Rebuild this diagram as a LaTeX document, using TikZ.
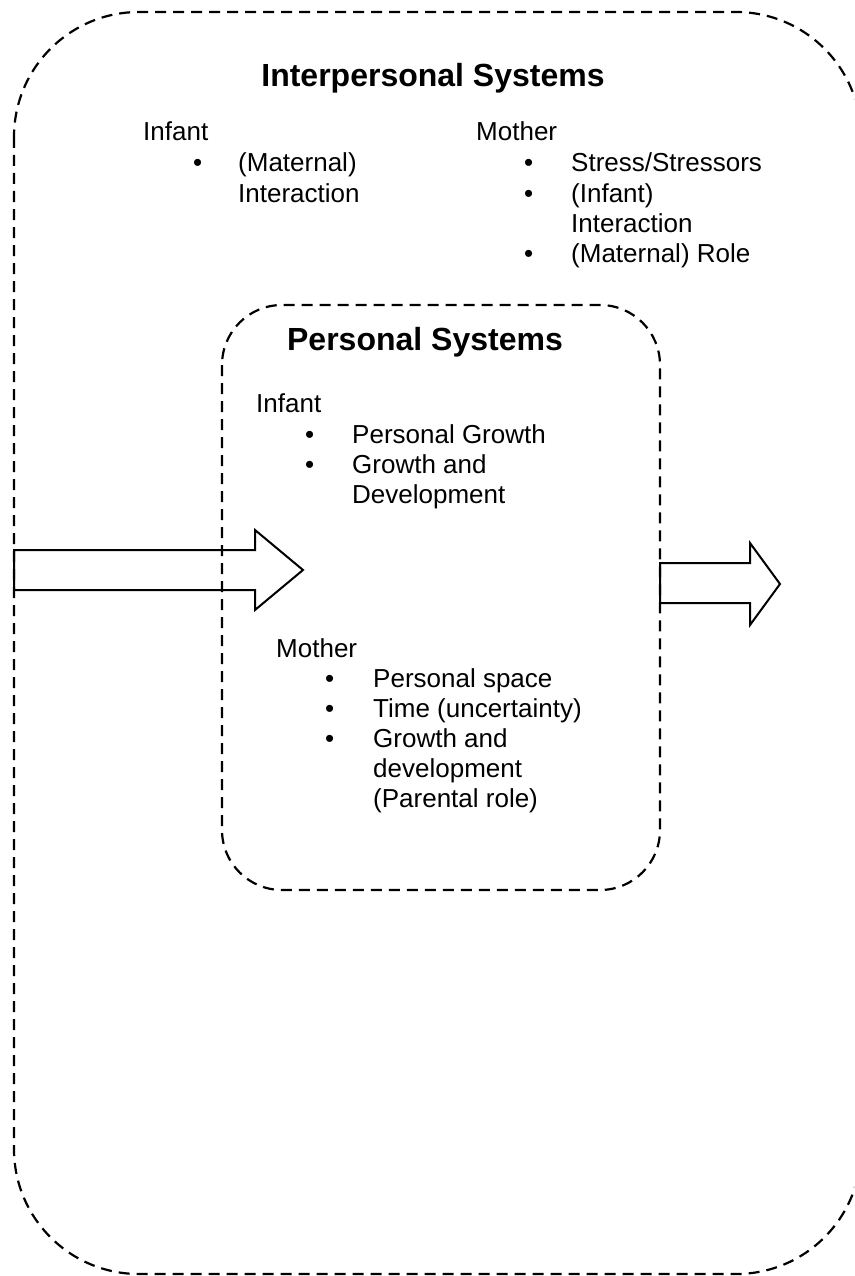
\documentclass[tikz,border=0pt]{standalone}
\usepackage{fontspec}
\setmainfont{Liberation Sans}
\begin{document}
\begin{tikzpicture}[x=1pt,y=-1pt,
  txt/.style={anchor=base west, inner sep=0pt, font=\fontsize{26}{30}\selectfont},
  ttl/.style={anchor=base, inner sep=0pt, font=\fontsize{32}{38}\selectfont\bfseries},
  sysbox/.style={draw, line width=2.2pt, dash pattern=on 11pt off 7pt},
  blockarrow/.style={draw, line width=2pt, line join=miter}]
\path[use as bounding box] (0,0) rectangle (854,1276);
\clip (0,0) rectangle (854,1276);
% outer and inner system boxes
\draw[sysbox, rounded corners=125pt] (14,12) rectangle (861,1274);
\draw[sysbox, rounded corners=60pt] (222,305) rectangle (660,890);
% block arrows
\draw[blockarrow] (14,550) -- (255,550) -- (255,530) -- (303,570) -- (255,610) -- (255,590) -- (14,590) -- cycle;
\draw[blockarrow] (660,563) -- (750,563) -- (750,543) -- (780,584) -- (750,625) -- (750,603) -- (660,603) -- cycle;
% titles
\node[ttl] (t1) at (433,87) {Interpersonal Systems};
\node[ttl] (t2) at (425,350) {Personal Systems};
% interpersonal - infant
\node[txt] (i1) at (143,141) {Infant};
\node[txt] (i1b1) at (193,172) {•};
\node[txt] (i1a) at (238,172) {(Maternal)};
\node[txt] (i1b) at (238,202) {Interaction};
% interpersonal - mother
\node[txt] (m1) at (476,141) {Mother};
\node[txt] (m1b1) at (524,172) {•};
\node[txt] (m1a) at (571,172) {Stress/Stressors};
\node[txt] (m1b2) at (524,202) {•};
\node[txt] (m1b) at (571,202) {(Infant)};
\node[txt] (m1c) at (571,232) {Interaction};
\node[txt] (m1b3) at (524,262) {•};
\node[txt] (m1d) at (571,262) {(Maternal) Role};
% personal - infant
\node[txt] (i2) at (256,412) {Infant};
\node[txt] (i2b1) at (305,443) {•};
\node[txt] (i2a) at (352,443) {Personal Growth};
\node[txt] (i2b2) at (305,473) {•};
\node[txt] (i2b) at (352,473) {Growth and};
\node[txt] (i2c) at (352,503) {Development};
% personal - mother
\node[txt] (m2) at (276,657) {Mother};
\node[txt] (m2b1) at (325,687) {•};
\node[txt] (m2a) at (373,687) {Personal space};
\node[txt] (m2b2) at (325,717) {•};
\node[txt] (m2b) at (373,717) {Time (uncertainty)};
\node[txt] (m2b3) at (325,747) {•};
\node[txt] (m2c) at (373,747) {Growth and};
\node[txt] (m2d) at (373,777) {development};
\node[txt] (m2e) at (373,807) {(Parental role)};
\end{tikzpicture}
\end{document}
